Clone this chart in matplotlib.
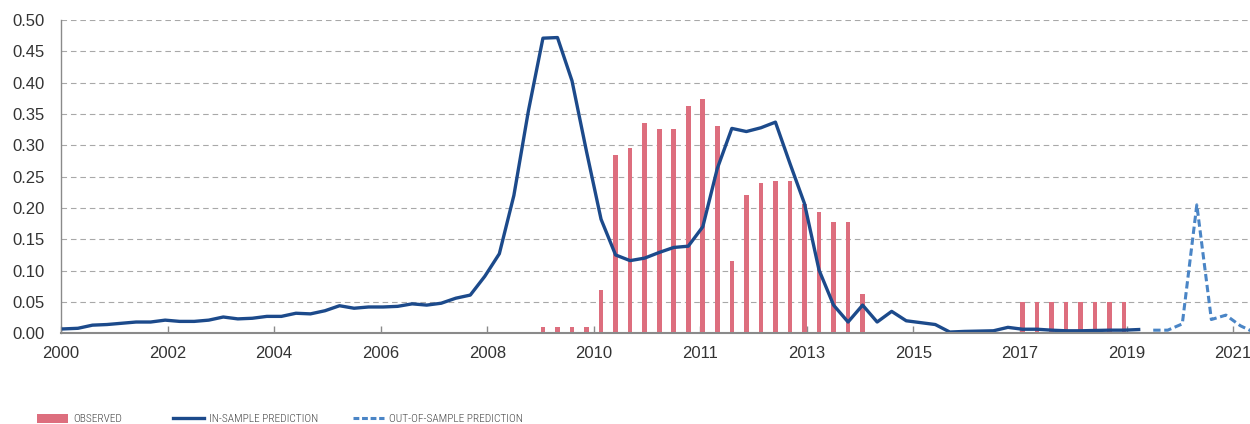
import numpy as np
import matplotlib
matplotlib.use("Agg")
import matplotlib.pyplot as plt
from matplotlib.patches import Patch
from matplotlib.lines import Line2D
from matplotlib.font_manager import FontProperties

# ---------------- data (quarterly, index 0 = first quarter of 2000) ----------------
in_sample = [0.007, 0.008, 0.013, 0.014, 0.016, 0.018, 0.018, 0.021, 0.019, 0.019,
             0.021, 0.026, 0.023, 0.024, 0.027, 0.027, 0.032, 0.031, 0.036, 0.044,
             0.040, 0.042, 0.042, 0.043, 0.047, 0.045, 0.048, 0.056, 0.061, 0.091,
             0.127, 0.220, 0.355, 0.471, 0.472, 0.403, 0.290, 0.182, 0.125, 0.116,
             0.120, 0.129, 0.137, 0.139, 0.170, 0.263, 0.327, 0.322, 0.328, 0.337,
             0.271, 0.207, 0.101, 0.045, 0.018, 0.045, 0.018, 0.035, 0.020, 0.017,
             0.014, 0.002, 0.003, 0.0035, 0.004, 0.0095, 0.0065, 0.0065, 0.005, 0.004,
             0.004, 0.0045, 0.005, 0.005, 0.006]
in_start = 0

observed = [0.010, 0.010, 0.010, 0.010, 0.069, 0.284, 0.295, 0.335, 0.326, 0.326,
            0.362, 0.374, 0.331, 0.116, 0.221, 0.240, 0.243, 0.243, 0.206, 0.194,
            0.178, 0.178, 0.063, 0.002, 0.0, 0.0, 0.0, 0.0, 0.0, 0.0,
            0.0, 0.0, 0.0, 0.050, 0.050, 0.050, 0.050, 0.050, 0.050, 0.050,
            0.050]
obs_start = 33

out_sample = [0.005, 0.005, 0.015, 0.205, 0.022, 0.029, 0.012, 0.001]
out_start = 75

tick_labels = ['2000', '2002', '2004', '2006', '2008', '2010', '2011',
               '2013', '2015', '2017', '2019', '2021']
y_ticks = [0.00, 0.05, 0.10, 0.15, 0.20, 0.25, 0.30, 0.35, 0.40, 0.45, 0.50]

legend_labels = ['OBSERVED', 'IN-SAMPLE PREDICTION', 'OUT-OF-SAMPLE PREDICTION']

# ---------------- style ----------------
RED = '#DD6E7E'
BLUE = '#1C4A8B'
LBLUE = '#4A85C6'
GRID = '#A8A8A8'
AXC = '#8A8A8A'
TXT = '#333333'

plt.rcParams['font.family'] = ['Liberation Sans', 'DejaVu Sans']

W, H = 1250, 424
fig = plt.figure(figsize=(W / 100, H / 100), dpi=100)
left_px, top_px, bottom_px = 61, 20, 333.3
ax = fig.add_axes([left_px / W, 1 - bottom_px / H, 1 - left_px / W, (bottom_px - top_px) / H])

x_in = np.arange(len(in_sample)) + in_start
x_obs = np.arange(len(observed)) + obs_start
x_out = np.arange(len(out_sample)) + out_start

ax.bar(x_obs, observed, width=0.32, color=RED, zorder=2, linewidth=0)
ax.plot(x_in, in_sample, color=BLUE, lw=2.4, zorder=3)
ax.plot(x_out, out_sample, color=LBLUE, lw=2.2, dashes=(2.4, 1.2), zorder=3)

ax.set_ylim(0, 0.5)
ax.set_xlim(-1 / 6, 81.66)

# ticks every 22 months (7 1/3 quarters), starting half a month before first point
tick_pos = [(22 * j - 0.5) / 3 for j in range(len(tick_labels))]
ax.set_xticks(tick_pos)
ax.set_xticklabels(tick_labels)
ax.set_yticks(y_ticks)
ax.set_yticklabels([f'{v:.2f}' for v in y_ticks])

ax.tick_params(axis='x', direction='in', length=5, width=1, color=AXC,
               pad=9.5, labelsize=12, labelcolor=TXT)
ax.tick_params(axis='y', length=0, pad=12, labelsize=12, labelcolor=TXT)

ax.yaxis.grid(True, color=GRID, lw=0.8, dashes=(5, 3.5))
ax.set_axisbelow(True)
for s in ['top', 'right']:
    ax.spines[s].set_visible(False)
ax.spines['left'].set_color(AXC)
ax.spines['left'].set_linewidth(1.0)
ax.spines['bottom'].set_color(AXC)
ax.spines['bottom'].set_linewidth(1.5)
ax.spines['bottom'].set_zorder(4)

# ---------------- legend (three separate entries along the bottom) ----------------
lp = FontProperties(family=['Roboto Condensed', 'Liberation Sans Narrow', 'Liberation Sans'],
                    stretch='condensed', weight='light', size=8.2)
handles = [Patch(facecolor=RED, edgecolor='none'),
           Line2D([], [], color=BLUE, lw=2.4),
           Line2D([], [], color=LBLUE, lw=2.2, dashes=(1.9, 0.9))]
starts = [37, 173, 353]
for h, lab, sx in zip(handles, legend_labels, starts):
    fig.legend(handles=[h], labels=[lab], loc='center left',
               bbox_to_anchor=(sx / W, 1 - 419 / H), frameon=False,
               borderpad=0, borderaxespad=0, handlelength=31 / 11.4,
               handleheight=0.87, handletextpad=0.45, prop=lp, labelcolor='#444444')

fig.savefig('out.png', dpi=100)
